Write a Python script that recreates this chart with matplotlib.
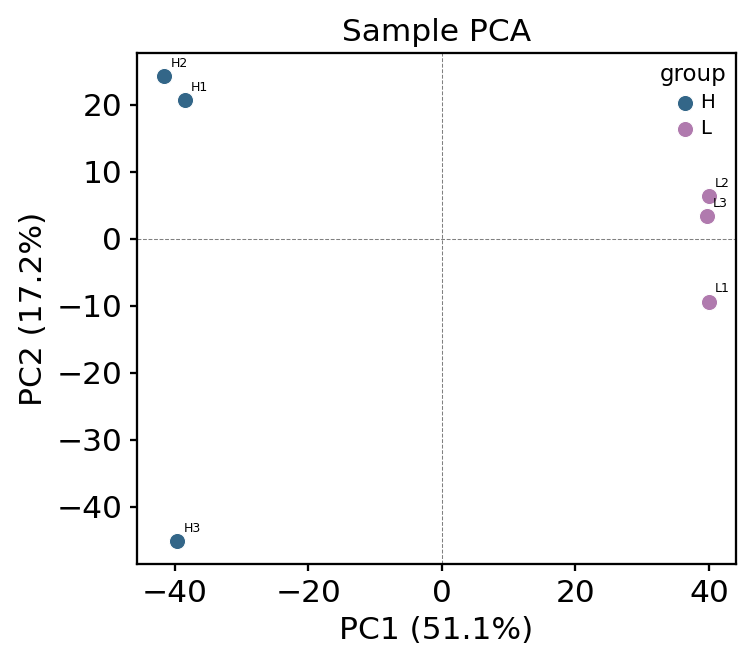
import matplotlib
matplotlib.use("Agg")
import matplotlib.pyplot as plt

samples = ["H1", "H2", "H3", "L1", "L2", "L3"]
groups = ["H", "H", "H", "L", "L", "L"]
pc1 = [-38.5, -41.6, -39.6, 40.0, 40.0, 39.7]
pc2 = [20.7, 24.2, -45.1, -9.4, 6.3, 3.4]
group_colors = {"H": "#336688", "L": "#B07AAE"}

fig = plt.figure(figsize=(752 / 150, 666 / 150), dpi=150)
ax = fig.add_axes([0.182, 0.153, 0.797, 0.767])

for g in ["H", "L"]:
    xs = [x for x, gg in zip(pc1, groups) if gg == g]
    ys = [y for y, gg in zip(pc2, groups) if gg == g]
    ax.scatter(xs, ys, s=60, color=group_colors[g], edgecolor="white",
               linewidth=0.5, label=g, zorder=3)

for name, x, y in zip(samples, pc1, pc2):
    ax.annotate(name, (x, y), xytext=(3, 3), textcoords="offset points",
                fontsize=6, ha="left", va="bottom")

ax.axhline(0, color="gray", linestyle="--", linewidth=0.5, zorder=1)
ax.axvline(0, color="gray", linestyle="--", linewidth=0.5, zorder=1)

ax.set_title("Sample PCA", fontsize=15)
ax.set_xlabel("PC1 (51.1%)", fontsize=15)
ax.set_ylabel("PC2 (17.2%)", fontsize=15)
ax.tick_params(labelsize=15, width=1.1)
for sp in ax.spines.values():
    sp.set_linewidth(1.1)
ax.legend(title="group", frameon=False, loc="upper right", fontsize=9.5,
          title_fontsize=11, handletextpad=0.0, handlelength=1.5,
          borderaxespad=0.1, labelspacing=0.35)

fig.savefig("out.png", dpi=150)
